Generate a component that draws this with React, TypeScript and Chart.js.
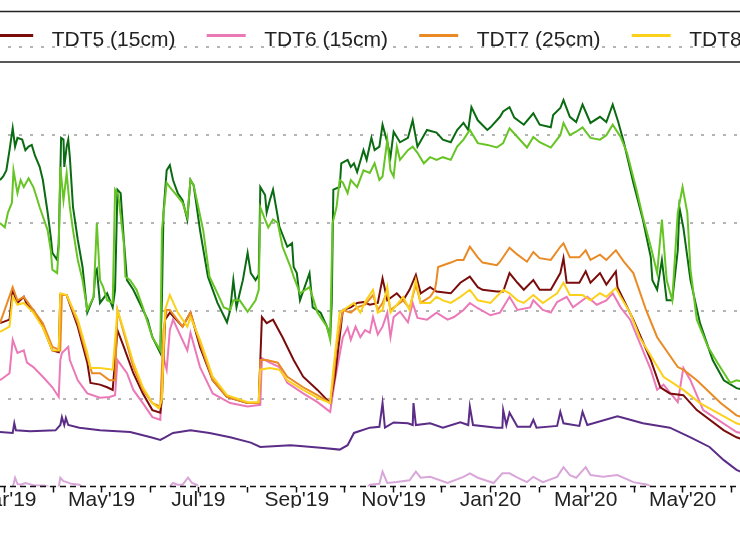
import React, { useEffect, useRef } from 'react';
import { Chart, registerables } from 'chart.js';

Chart.register(...registerables);

// x = days since 1 Mar 2019, y = sensor reading
const X_MIN = -53.4;
const X_MAX = 513.6;
const Y_MIN = 0;
const Y_MAX = 55.4;
const GRID_VALUES = [10, 20, 30, 40, 50];
const MONTH_NAMES = ['Jan', 'Feb', 'Mar', 'Apr', 'May', 'Jun', 'Jul', 'Aug', 'Sep', 'Oct', 'Nov', 'Dec'];
const FIRST_TICK = { year: 2019, month: 1 }; // Feb 2019
const TICK_COUNT = 18; // Feb 2019 .. Jul 2020

const LABELS = ['TDT3 (5cm)', 'TDT4 (5cm)', 'TDT5 (15cm)', 'TDT6 (15cm)', 'TDT7 (25cm)', 'TDT8 (25cm)', 'TDT9 (40cm)', 'TDT10 (40cm)'];
const COLORS = ['#0b6b12', '#66c424', '#7a0c0c', '#ec79b7', '#ea8a25', '#fbd11c', '#5b2d87', '#d9a6da'];

const TDT3: number[][] = [[-3,34.9],[-1,35.3],[1,36.0],[3,38.3],[5,40.8],[6.5,38.7],[8,39.7],[11,39.5],[13,38.3],[15,38.7],[17,38.9],[19,37.7],[22,36.4],[24,34.9],[27,31.2],[29,28.4],[30,26.6],[33,25.8],[34,27.7],[35.5,39.7],[37,39.5],[37.5,36.4],[39,38.7],[40,39.5],[41,37.5],[43,31.8],[46,28.1],[49,25.0],[52,19.8],[56,21.6],[57,24.3],[58,24.7],[60,20.9],[64.5,22.0],[68,20.4],[69.5,22.4],[71,33.8],[73,33.4],[75,28.1],[77,23.5],[81,22.4],[85,20.9],[90,19.0],[93,17.0],[98,15.2],[99,21.2],[100,31.2],[102,36.0],[104,36.6],[106,34.9],[109,33.4],[112,32.6],[115,30.4],[117,34.9],[119,34.3],[121,31.8],[123,29.2],[128,23.9],[134,20.9],[140,18.7],[142,20.1],[144,23.5],[146,20.4],[148,22.0],[150,23.5],[153,26.6],[155,24.3],[158,23.5],[160,24.1],[161,34.1],[164,33.2],[165,31.2],[167,32.6],[169,33.8],[172,30.7],[173,29.6],[178,27.3],[181,27.7],[182,25.0],[184,24.3],[186,21.2],[192,24.3],[194,20.4],[199,19.8],[203,18.2],[205,17.0],[206,20.9],[207,33.8],[211,34.1],[212,36.8],[216,37.2],[218,36.4],[220,36.8],[222,35.8],[226,38.3],[228,37.2],[231,39.7],[233,38.3],[236,38.7],[238,41.2],[241,39.2],[243,37.5],[245,40.4],[249,39.2],[254,39.7],[257,41.7],[260,38.7],[266,40.6],[272,40.3],[276,39.5],[281,39.2],[285,40.6],[289,41.4],[292,40.6],[294,43.2],[298,41.7],[304,40.6],[306,40.9],[312,42.1],[314,42.7],[318,43.2],[321,42.0],[327,41.2],[333,42.5],[337,41.2],[344,40.9],[345.5,42.3],[350,43.1],[352,44.0],[356,42.1],[360,41.5],[364,43.5],[369,41.4],[375,42.1],[379,41.5],[383,43.5],[386.5,41.5],[390,39.2],[396,34.6],[402,30.4],[407,26.1],[408,23.5],[411,22.4],[414,25.8],[417,21.2],[420.5,21.2],[424,26.9],[425,31.8],[427.5,29.5],[432,23.5],[438,18.6],[446,14.4],[453,12.1],[461,11.2],[466,11.0]];

const TDT4: number[][] = [[-3,30.0],[0,29.5],[2,31.2],[4.5,32.3],[5.5,36.0],[8,33.4],[10,34.9],[12,34.1],[15,35.1],[18,34.1],[20,33.0],[22,31.8],[27,29.2],[29,26.9],[30,24.7],[33,24.3],[34,27.3],[35,36.4],[37,32.6],[39,35.7],[41,31.8],[43,29.2],[46,25.8],[49,23.5],[52,20.1],[56,21.6],[58,30.0],[60,23.5],[62,22.7],[64.5,21.2],[68,20.9],[69.5,33.8],[71.5,33.2],[75,27.7],[76,23.9],[79,23.5],[83,22.4],[87,20.4],[93,17.0],[98,15.5],[99,29.2],[102,34.6],[104,34.1],[109,33.0],[112,32.3],[115,30.7],[117,34.9],[119,34.3],[121,32.6],[125,29.2],[129,23.9],[134,22.0],[138,20.4],[142,20.1],[144,21.2],[148,21.2],[153,19.9],[158,21.2],[160,22.4],[161,31.8],[164,30.4],[166,29.5],[169,30.4],[172,30.0],[175,27.3],[180,25.0],[182,23.9],[186,22.0],[192,22.7],[197,19.8],[203,18.2],[205,16.7],[206.5,30.0],[209,31.8],[211,34.9],[213,34.6],[216,33.4],[218,34.9],[222,34.1],[226,36.0],[230,35.7],[233,36.8],[236,34.9],[238,35.3],[241,39.5],[243,36.0],[245,35.3],[247,38.7],[249,37.2],[254,38.3],[257,38.7],[260,38.0],[264,36.8],[268,37.5],[272,37.2],[276,37.5],[281,37.2],[285,38.7],[289,39.5],[293,40.6],[298,39.1],[304,38.9],[310,38.6],[314,39.1],[318,40.8],[323,39.8],[329,38.6],[333,39.8],[337,39.2],[344,38.6],[350,40.0],[352,41.4],[356,40.0],[360,40.4],[364,40.9],[369,39.7],[375,39.5],[379,40.0],[383,41.2],[388,39.8],[392,38.0],[398,33.8],[402,30.7],[407,27.3],[411,24.3],[414,30.4],[417,23.5],[420.5,21.2],[424,31.2],[427,34.1],[430,31.2],[432,24.7],[436,19.0],[443,15.9],[449,14.1],[457,11.8],[461,12.1],[466,11.9]];

const TDT5: number[][] = [[-3,18.6],[3,19.0],[5,22.4],[8,20.9],[12,21.6],[14,20.7],[18,20.1],[24,18.2],[30,15.5],[34,15.3],[35,21.8],[39,21.8],[46,18.2],[52,14.1],[54,11.8],[60,11.6],[64.5,11.3],[68,11.0],[71,17.8],[75,15.9],[81,12.9],[87,10.6],[93,8.7],[98,8.4],[99,9.9],[101,19.0],[104,19.8],[112,18.2],[117,19.8],[123,15.9],[131,12.1],[140,10.2],[153,9.5],[160,9.5],[162,19.3],[165,18.6],[169,19.0],[175,17.0],[182,14.4],[188,12.5],[197,11.0],[205,9.5],[208,12.5],[211,17.0],[213,20.1],[218,20.4],[222,20.9],[226,21.0],[230,20.7],[235,20.9],[238,23.7],[241,21.2],[247,22.0],[251,21.2],[255,22.4],[259,24.1],[262,22.0],[268,22.7],[272,22.2],[281,22.0],[287,23.2],[293,23.9],[298,22.7],[301,22.4],[310,22.2],[314,22.2],[318,24.3],[323,23.2],[327,22.4],[333,23.5],[337,22.4],[344,22.4],[350,24.3],[352,26.0],[354,23.2],[362,23.2],[366,24.5],[369,23.2],[375,24.3],[379,23.0],[385,24.5],[386,22.7],[396,19.0],[407,14.4],[413,11.3],[419,10.6],[427.5,10.4],[436,8.7],[453,6.4],[461,5.6],[466,5.3]];

const TDT6: number[][] = [[-3,12.1],[3,12.9],[5,16.7],[8,15.2],[12,15.5],[14,14.1],[18,13.6],[24,12.5],[30,11.3],[34,10.2],[35,14.4],[36,15.2],[40,15.9],[41,14.4],[46,12.1],[52,10.6],[60,10.1],[66,10.2],[69.5,10.4],[71,14.4],[77,12.9],[81,11.0],[87,9.5],[93,7.9],[98,7.6],[99,12.1],[100,14.7],[102,13.3],[104,17.8],[106,19.0],[115,15.5],[117,17.5],[123,13.6],[131,10.6],[142,9.5],[153,9.1],[161,9.3],[162,14.6],[167,14.1],[173,13.6],[178,11.8],[188,10.6],[197,9.6],[205,8.5],[208,12.1],[213,17.0],[216,18.1],[218,16.7],[221,18.2],[224,17.0],[227,17.8],[230,17.5],[232,19.3],[235,17.3],[238,18.2],[241,19.8],[243,17.0],[245,19.3],[249,19.9],[254,18.7],[257,20.9],[260,19.2],[266,19.0],[272,19.8],[279,19.0],[283,19.3],[289,20.1],[293,20.9],[298,20.3],[306,19.5],[312,19.8],[318,21.6],[323,20.1],[331,20.4],[333,21.2],[339,20.1],[344,19.8],[348,21.0],[354,21.6],[358,20.4],[367,21.6],[373,20.7],[379,21.2],[383,22.0],[388,20.4],[394,19.0],[407,13.3],[411,11.0],[415,11.6],[424,9.6],[427.5,13.5],[432,12.1],[440,8.7],[461,6.2],[466,6.0]];

const TDT7: number[][] = [[-3,18.6],[5,22.7],[8,21.2],[12,21.6],[18,20.1],[24,18.6],[30,15.9],[35,15.5],[36,21.8],[39,21.8],[46,18.6],[52,14.7],[55,12.9],[60,12.9],[66,12.1],[69.5,12.1],[71,20.1],[75,17.5],[81,13.6],[87,11.0],[93,9.5],[98,9.1],[100,17.8],[102,20.1],[104,20.1],[112,18.2],[117,19.8],[123,16.3],[131,12.1],[140,10.2],[153,9.5],[160,9.5],[161,14.4],[165,14.4],[172,14.1],[178,12.5],[188,11.3],[197,10.4],[205,9.5],[207,12.1],[209,15.9],[213,20.1],[218,19.8],[222,20.4],[227,20.7],[232,21.8],[235,20.1],[238,20.9],[241,22.2],[243,20.1],[251,21.2],[255,20.3],[259,23.0],[262,20.9],[268,21.6],[271,22.4],[272,23.5],[273,25.0],[281,25.5],[285,25.8],[289,25.8],[293,27.3],[298,26.1],[301,25.5],[310,25.2],[312,25.6],[318,27.2],[323,26.4],[329,25.6],[333,26.7],[337,26.0],[344,25.8],[350,27.3],[352,27.7],[356,26.1],[362,26.1],[366,26.9],[369,25.8],[375,26.4],[379,25.8],[385,26.9],[390,25.6],[396,24.3],[404,20.1],[411,17.0],[424,13.6],[427.5,13.3],[436,12.1],[451,9.5],[461,8.1],[466,7.8]];

const TDT8: number[][] = [[-3,17.6],[3,18.2],[5,21.6],[8,20.7],[12,20.9],[18,19.8],[24,18.1],[30,15.5],[34,15.5],[35,22.0],[39,21.8],[46,19.0],[52,15.2],[54,13.5],[60,13.5],[68,13.3],[71,20.1],[75,17.8],[81,14.1],[87,11.3],[93,9.5],[97,8.9],[99,9.9],[101,20.1],[104,21.8],[109,19.8],[115,18.2],[117,19.3],[123,16.7],[131,12.5],[140,10.4],[153,9.6],[160,9.6],[161,13.3],[167,13.5],[173,13.3],[178,12.1],[188,11.0],[197,10.1],[205,9.5],[207,13.3],[211,19.8],[220,20.9],[224,19.8],[227,21.0],[232,22.4],[235,19.8],[238,20.1],[241,22.7],[243,19.8],[251,21.6],[255,20.1],[259,23.5],[262,20.9],[268,20.9],[272,21.6],[276,21.2],[281,20.9],[287,21.6],[293,22.4],[298,21.2],[306,20.9],[314,22.4],[318,22.0],[323,21.2],[327,20.9],[333,21.8],[339,20.9],[348,22.0],[352,23.2],[356,21.8],[364,21.8],[369,21.2],[375,22.0],[379,21.6],[385,22.6],[388,21.6],[394,19.8],[400,17.0],[415,12.5],[427.5,11.0],[438,9.5],[461,7.2],[466,6.9]];

const TDT9: number[][] = [[-3,6.2],[5,6.1],[6,7.2],[7,6.4],[16,6.3],[32,6.4],[35,7.0],[36,7.9],[37.5,7.0],[38.5,7.8],[40,7.0],[47,6.7],[60,6.4],[79,6.2],[92,5.6],[98,5.3],[101,5.6],[106,6.1],[117,6.4],[129,6.1],[142,5.6],[155,5.0],[161,4.5],[180,4.7],[186,4.6],[199,4.4],[211,4.2],[216,4.7],[220,6.1],[230,6.7],[236,6.8],[238,9.5],[239.5,6.7],[245,7.3],[254,7.2],[257,7.0],[257.5,9.5],[259,7.0],[268,7.2],[276,6.7],[287,7.3],[292,7.0],[293,9.1],[295,7.0],[310,6.7],[313.5,6.7],[314,8.7],[316,7.0],[318,8.4],[323,6.8],[331,6.8],[333,7.6],[335,6.7],[348,6.9],[350,8.5],[352,7.2],[362,6.9],[364,8.5],[367,7.0],[386,8.0],[390,7.8],[402,7.2],[419,6.7],[432,5.6],[444,4.5],[453,3.0],[461,1.9],[466,1.5]];

const TDT10: number[][] = [[-3,-0.4],[5,-0.1],[6.5,1.0],[8,0.3],[10,0.2],[13,0.4],[19,0.1],[25,0.1],[30,-0.2],[34,-0.1],[35,1.0],[37,0.6],[39,0.5],[42,0.3],[47,0.2],[51,-0.3],[60,-0.6],[98,-0.6],[103,-0.2],[106,0.4],[109,0.2],[112,0.2],[115.5,1.0],[118,0.4],[121,0.2],[123,-0.3],[186,-0.7],[227,-0.4],[230,0.2],[236,0.3],[238,1.7],[241,0.4],[247,0.5],[255,0.7],[259,1.7],[262,1.0],[268,1.1],[279,0.4],[289,1.1],[293,1.5],[298,1.0],[308,0.4],[313.5,1.5],[318,1.5],[323,1.0],[329,0.5],[333,1.1],[339,0.5],[348,1.1],[352,2.2],[356,1.3],[360,1.0],[366,2.2],[369,1.3],[377,1.1],[386,1.3],[396,0.5],[405,0.2],[410,-0.4],[466,-1.0]];

const SERIES = [TDT3, TDT4, TDT5, TDT6, TDT7, TDT8, TDT9, TDT10];
// stacking: first drawn last (on top)
const DRAW_ORDER = [5, 4, 2, 3, 6, 7, 1, 0];

const OFFSET = 80; // canvas extends 80px left of the visible page
const CANVAS_W = 900;
const CANVAS_H = 546;
const FONT = '"Liberation Sans", Arial, sans-serif';

function buildTicks() {
  const ticks: { value: number; label: string }[] = [];
  const day0 = Date.UTC(2019, 2, 1);
  for (let i = 0; i < TICK_COUNT; i++) {
    const mAll = FIRST_TICK.month + i;
    const y = FIRST_TICK.year + Math.floor(mAll / 12);
    const m = mAll % 12;
    const value = (Date.UTC(y, m, 1) - day0) / 86400000;
    const label = m % 2 === 0 ? `${MONTH_NAMES[m]}'${String(y).slice(2)}` : '';
    ticks.push({ value, label });
  }
  return ticks;
}

const overlayPlugin = {
  id: 'overlay',
  afterDatasetsDraw(chart: any) {
    const { ctx, chartArea } = chart;
    ctx.save();
    ctx.strokeStyle = '#111';
    ctx.lineWidth = 1.5;
    ctx.setLineDash([6, 4]);
    ctx.beginPath();
    ctx.moveTo(0, chartArea.bottom);
    ctx.lineTo(chart.width, chartArea.bottom);
    ctx.stroke();
    ctx.restore();
  },
  afterDraw(chart: any) {
    const { ctx } = chart;
    ctx.save();
    ctx.strokeStyle = '#222';
    ctx.lineWidth = 1.5;
    ctx.beginPath();
    ctx.moveTo(0, 11.5);
    ctx.lineTo(chart.width, 11.5);
    ctx.moveTo(0, 62);
    ctx.lineTo(chart.width, 62);
    ctx.stroke();
    ctx.font = `21px ${FONT}`;
    ctx.textBaseline = 'alphabetic';
    ctx.textAlign = 'left';
    LABELS.forEach((lab, k) => {
      const tx = OFFSET + 51.7 + (k - 2) * 212.5;
      ctx.strokeStyle = COLORS[k];
      ctx.lineWidth = 3;
      ctx.beginPath();
      ctx.moveTo(tx - 57.5, 35.5);
      ctx.lineTo(tx - 18.5, 35.5);
      ctx.stroke();
      ctx.fillStyle = '#222';
      ctx.fillText(lab, tx, 45.5);
    });
    ctx.restore();
  },
};

export default function App() {
  const ref = useRef<HTMLCanvasElement | null>(null);
  useEffect(() => {
    if (!ref.current) return;
    const ticks = buildTicks();
    const labelOf = new Map(ticks.map((t) => [t.value, t.label]));
    const datasets = DRAW_ORDER.map((i) => ({
      label: LABELS[i],
      data: SERIES[i].map(([x, y]) => ({ x, y })),
      borderColor: COLORS[i],
      backgroundColor: COLORS[i],
      borderWidth: 2,
      pointRadius: 0,
      tension: 0,
      fill: false,
    }));
    const chart = new Chart(ref.current, {
      type: 'line',
      data: { datasets },
      options: {
        animation: false,
        responsive: false,
        devicePixelRatio: 1,
        layout: { padding: { top: 0, left: 0, right: 0, bottom: 38.3 } },
        plugins: { legend: { display: false }, tooltip: { enabled: false } },
        scales: {
          x: {
            type: 'linear',
            min: X_MIN,
            max: X_MAX,
            position: 'bottom',
            afterBuildTicks: (s: any) => {
              s.ticks = ticks.map((t) => ({ value: t.value }));
            },
            grid: { drawOnChartArea: false, drawTicks: true, tickLength: 6, tickColor: '#111', tickWidth: 1.5 },
            border: { display: false },
            ticks: {
              autoSkip: false,
              maxRotation: 0,
              minRotation: 0,
              padding: -5,
              color: '#222',
              font: { family: FONT, size: 21 },
              callback: (v: any) => labelOf.get(Number(v)) ?? '',
            },
          },
          y: {
            min: Y_MIN,
            max: Y_MAX,
            afterBuildTicks: (s: any) => {
              s.ticks = GRID_VALUES.map((v) => ({ value: v }));
            },
            ticks: { display: false },
            grid: { drawTicks: false, color: '#b4b4b4', lineWidth: 2 },
            border: { display: false, dash: [3, 8] },
          },
        },
      },
      plugins: [overlayPlugin],
    } as any);
    return () => chart.destroy();
  }, []);
  return (
    <div style={{ position: 'fixed', left: 0, top: 0, width: 740, height: 546, overflow: 'hidden', background: '#fff' }}>
      <canvas
        ref={ref}
        width={CANVAS_W}
        height={CANVAS_H}
        style={{ position: 'absolute', left: -OFFSET, top: 0, width: CANVAS_W, height: CANVAS_H }}
      />
    </div>
  );
}
